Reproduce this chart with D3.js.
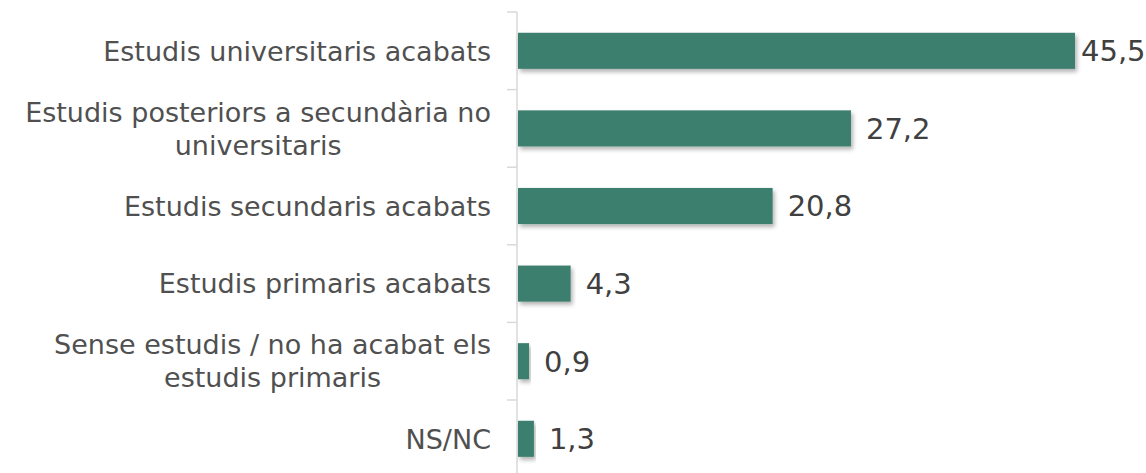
<!DOCTYPE html>
<html>
<head>
<meta charset="utf-8">
<script src="https://cdn.jsdelivr.net/npm/d3@7"></script>
<style>
  body { margin: 0; background: #fff; }
  text { font-family: "DejaVu Sans", sans-serif; }
</style>
</head>
<body>
<div id="chart"></div>
<script>
const categories = [
  ['Estudis universitaris acabats'],
  ['Estudis posteriors a secundària no', 'universitaris'],
  ['Estudis secundaris acabats'],
  ['Estudis primaris acabats'],
  ['Sense estudis / no ha acabat els', 'estudis primaris'],
  ['NS/NC']
]
const values = [45.5, 27.2, 20.8, 4.3, 0.9, 1.3]

const WIDTH = 1146
const HEIGHT = 473
const AXIS_X = 518
const TOP = 12
const STEP = 77.6
const LABEL_RIGHT = 491

const svg = d3.select('#chart')
  .append('svg')
  .attr('width', WIDTH)
  .attr('height', HEIGHT)

// soft shadow under the bars
const defs = svg.append('defs')
const f = defs.append('filter').attr('id', 'shadow')
  .attr('x', '-5%').attr('y', '-20%').attr('width', '115%').attr('height', '160%')
f.append('feDropShadow')
  .attr('dx', 2).attr('dy', 3).attr('stdDeviation', 2)
  .attr('flood-color', '#000').attr('flood-opacity', 0.3)

const ids = d3.range(values.length)

const x = d3.scaleLinear()
  .domain([0, 45.5])
  .range([AXIS_X, 1075])

const y = d3.scaleBand()
  .domain(ids)
  .range([TOP, TOP + STEP * ids.length])
  .paddingInner(0.535)
  .paddingOuter(0.2675)

// category boundaries for the ticks
const yTicks = d3.scaleLinear().domain([0, ids.length]).range([TOP, TOP + STEP * ids.length])

svg.append('line')
  .attr('x1', AXIS_X - 1).attr('x2', AXIS_X - 1)
  .attr('y1', TOP).attr('y2', HEIGHT + 10)
  .attr('stroke', '#d9d9d9').attr('stroke-width', 1.5)

svg.selectAll('.tick')
  .data(d3.range(ids.length + 1))
  .enter().append('line')
  .attr('class', 'tick')
  .attr('x1', AXIS_X - 11).attr('x2', AXIS_X - 1)
  .attr('y1', d => yTicks(d)).attr('y2', d => yTicks(d))
  .attr('stroke', '#d9d9d9').attr('stroke-width', 1.5)

svg.selectAll('rect.bar')
  .data(values)
  .enter().append('rect')
  .attr('class', 'bar')
  .attr('x', x(0))
  .attr('y', (d, i) => y(i))
  .attr('width', d => x(d) - x(0))
  .attr('height', y.bandwidth())
  .attr('fill', '#3d7f6e')
  .attr('filter', 'url(#shadow)')

// value labels, pulled in when there is no room at the right edge
svg.selectAll('text.value')
  .data(values)
  .enter().append('text')
  .attr('class', 'value')
  .attr('x', d => Math.min(x(d) + 15, 1081))
  .attr('y', (d, i) => y(i) + y.bandwidth() / 2)
  .attr('dy', '0.36em')
  .attr('font-size', 29)
  .attr('font-family', '"Liberation Sans", sans-serif')
  .attr('fill', '#404040')
  .text(d => d3.format('.1f')(d).replace('.', ','))

const LINE = 33
const labels = svg.selectAll('text.label')
  .data(categories)
  .enter().append('text')
  .attr('class', 'label')
  .attr('text-anchor', 'middle')
  .attr('font-size', 27)
  .attr('fill', '#505050')
  .attr('y', (d, i) => y(i) + y.bandwidth() / 2 - (d.length - 1) * LINE / 2)

labels.selectAll('tspan')
  .data(d => d)
  .enter().append('tspan')
  .attr('dy', (d, j) => j === 0 ? '0.36em' : LINE)
  .text(d => d)

// wrapped lines are centred on the block, block is right aligned to the axis
labels.each(function() {
  const spans = d3.select(this).selectAll('tspan')
  const w = d3.max(spans.nodes(), n => n.getComputedTextLength())
  spans.attr('x', LABEL_RIGHT - w / 2)
})
</script>
</body>
</html>
